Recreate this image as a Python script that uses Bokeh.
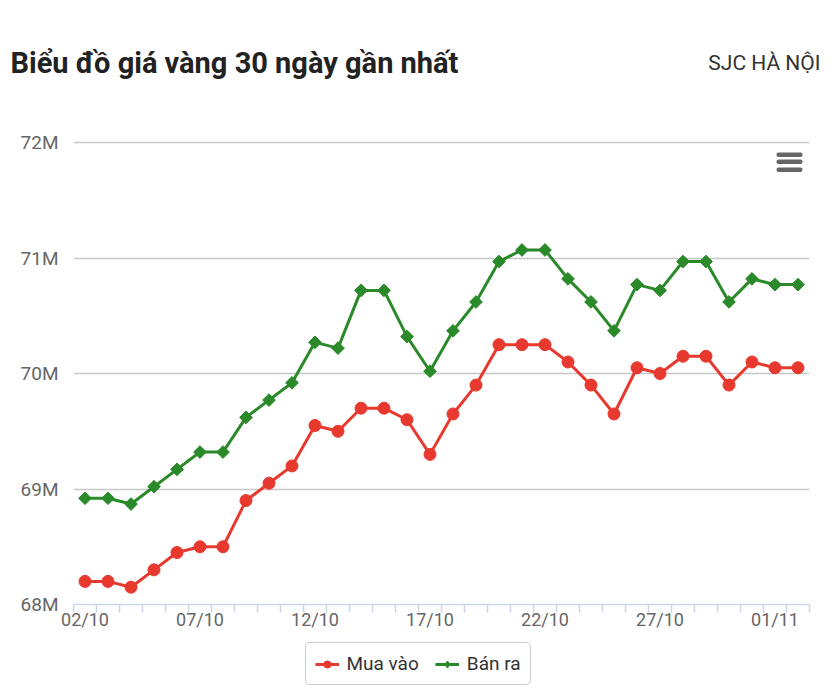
import math
from bokeh.plotting import figure
from bokeh.layouts import column
from bokeh.models import (ColumnDataSource, FixedTicker, Legend, LegendItem, Label,
                          Range1d, CustomJSTickFormatter, BoxAnnotation)
from bokeh.embed import file_html
from bokeh.resources import INLINE

dates = ["02/10", "03/10", "04/10", "05/10", "06/10", "07/10", "08/10", "09/10",
         "10/10", "11/10", "12/10", "13/10", "14/10", "15/10", "16/10", "17/10",
         "18/10", "19/10", "20/10", "21/10", "22/10", "23/10", "24/10", "25/10",
         "26/10", "27/10", "28/10", "29/10", "30/10", "31/10", "01/11", "02/11"]

mua_vao = [68.20, 68.20, 68.15, 68.30, 68.45, 68.50, 68.50, 68.90,
           69.05, 69.20, 69.55, 69.50, 69.70, 69.70, 69.60, 69.30,
           69.65, 69.90, 70.25, 70.25, 70.25, 70.10, 69.90, 69.65,
           70.05, 70.00, 70.15, 70.15, 69.90, 70.10, 70.05, 70.05]

ban_ra = [68.92, 68.92, 68.87, 69.02, 69.17, 69.32, 69.32, 69.62,
          69.77, 69.92, 70.27, 70.22, 70.72, 70.72, 70.32, 70.02,
          70.37, 70.62, 70.97, 71.07, 71.07, 70.82, 70.62, 70.37,
          70.77, 70.72, 70.97, 70.97, 70.62, 70.82, 70.77, 70.77]

y_ticks = [68, 69, 70, 71, 72]
x_label_idx = [0, 5, 10, 15, 20, 25, 30]

TITLE = "Biểu đồ giá vàng 30 ngày gần nhất"
SUBTITLE = "SJC HÀ NỘI"
SERIES_NAMES = ["Mua vào", "Bán ra"]

RED = "#e8392f"
GREEN = "#2a8a2a"
FONT = "Roboto"
W = 835

n = len(dates)
idx = list(range(n))
src = ColumnDataSource(dict(x=idx, mua=mua_vao, ban=ban_ra, d=dates))


def no_align(fig):
    try:
        fig.frame_align = False
    except Exception:
        pass


# ---------- header ----------
head = figure(width=W, height=120, output_backend="svg", toolbar_location=None,
              x_axis_type=None, y_axis_type=None,
              x_range=Range1d(0, W), y_range=Range1d(120, 0),
              min_border=0, min_border_left=0, min_border_right=0,
              min_border_top=0, min_border_bottom=0)
no_align(head)
head.grid.visible = False
head.outline_line_color = None
head.add_layout(Label(x=10, y=62, text=TITLE, text_font=FONT,
                      text_font_size="29px", text_font_style="bold",
                      text_color="#222222", text_baseline="middle", text_align="left"))
head.add_layout(Label(x=820, y=62, text=SUBTITLE, text_font=FONT,
                      text_font_size="21px", text_color="#333333",
                      text_baseline="middle", text_align="right"))

# ---------- main chart ----------
p = figure(width=W, height=520, output_backend="svg", toolbar_location=None,
           x_range=Range1d(-0.5, n - 0.5), y_range=Range1d(68, 72.07),
           min_border_left=73, min_border_right=26, min_border_top=14,
           min_border_bottom=36)
no_align(p)
p.outline_line_color = None

p.xgrid.grid_line_color = None
p.ygrid.ticker = FixedTicker(ticks=y_ticks)
p.ygrid.grid_line_color = "#c8c8c8"
p.ygrid.grid_line_width = 1.5

p.yaxis.ticker = FixedTicker(ticks=y_ticks)
p.yaxis.formatter = CustomJSTickFormatter(code="return tick.toFixed(0) + 'M';")
p.yaxis.axis_line_color = None
p.yaxis.major_tick_line_color = None
p.yaxis.minor_tick_line_color = None
p.yaxis.major_label_text_font = FONT
p.yaxis.major_label_text_font_size = "19px"
p.yaxis.major_label_text_color = "#666666"
p.yaxis.major_label_standoff = 9

p.xaxis.ticker = FixedTicker(ticks=x_label_idx,
                             minor_ticks=[i - 0.5 for i in range(n + 1)])
p.xaxis.major_label_overrides = {i: dates[i] for i in x_label_idx}
p.xaxis.axis_line_color = "#ccd6eb"
p.xaxis.axis_line_width = 1.5
p.xaxis.major_tick_line_color = None
p.xaxis.major_tick_in = 0
p.xaxis.major_tick_out = 6
p.xaxis.minor_tick_line_color = "#ccd6eb"
p.xaxis.minor_tick_line_width = 1.5
p.xaxis.minor_tick_in = 0
p.xaxis.minor_tick_out = 8
p.xaxis.major_label_text_font = FONT
p.xaxis.major_label_text_font_size = "18px"
p.xaxis.major_label_text_color = "#666666"
p.xaxis.major_label_standoff = -4

p.line("x", "mua", source=src, line_color=RED, line_width=3)
p.scatter("x", "mua", source=src, marker="circle", size=12,
          fill_color=RED, line_color=RED)
p.line("x", "ban", source=src, line_color=GREEN, line_width=3)
p.scatter("x", "ban", source=src, marker="square", size=9, angle=math.pi / 4,
          fill_color=GREEN, line_color=GREEN)

# export-menu icon (three bars)
try:
    for top in (32, 39, 47):
        p.add_layout(BoxAnnotation(left=776, right=802, top=top, bottom=top + 4.5,
                                   left_units="canvas", right_units="canvas",
                                   top_units="canvas", bottom_units="canvas",
                                   fill_color="#666666", fill_alpha=1,
                                   line_color=None, border_radius=2))
except Exception:
    p.add_layout(Label(x=788, y=40, x_units="canvas", y_units="canvas", text="☰",
                       text_font="DejaVu Sans", text_font_size="30px",
                       text_color="#666666", text_baseline="middle",
                       text_align="center"))

# ---------- footer with legend ----------
foot = figure(width=W, height=57, output_backend="svg", toolbar_location=None,
              x_axis_type=None, y_axis_type=None,
              x_range=Range1d(0, 1), y_range=Range1d(0, 1),
              min_border=0, min_border_left=0, min_border_right=0,
              min_border_top=0, min_border_bottom=0)
no_align(foot)
foot.grid.visible = False
foot.outline_line_color = None
# legend keys (series data lie outside this strip's range, so only the keys show)
fl1 = foot.line("x", "mua", source=src, line_color=RED, line_width=3)
fs1 = foot.scatter("x", "mua", source=src, marker="circle", size=12,
                   fill_color=RED, line_color=RED)
fl2 = foot.line("x", "ban", source=src, line_color=GREEN, line_width=3)
fs2 = foot.scatter("x", "ban", source=src, marker="diamond", size=14,
                   fill_color=GREEN, line_color=GREEN)
legend = Legend(items=[LegendItem(label=SERIES_NAMES[0], renderers=[fl1, fs1]),
                       LegendItem(label=SERIES_NAMES[1], renderers=[fl2, fs2])],
                orientation="horizontal", location="top_center",
                label_text_font=FONT, label_text_font_size="19px",
                label_text_color="#333333",
                border_line_color="#999999", border_line_width=1,
                border_radius=5, background_fill_color="white",
                glyph_width=24, glyph_height=18, spacing=16,
                padding=9, margin=2, label_standoff=8)
foot.add_layout(legend, "center")

open("out.html", "w").write(file_html(column(head, p, foot, spacing=0), INLINE))
